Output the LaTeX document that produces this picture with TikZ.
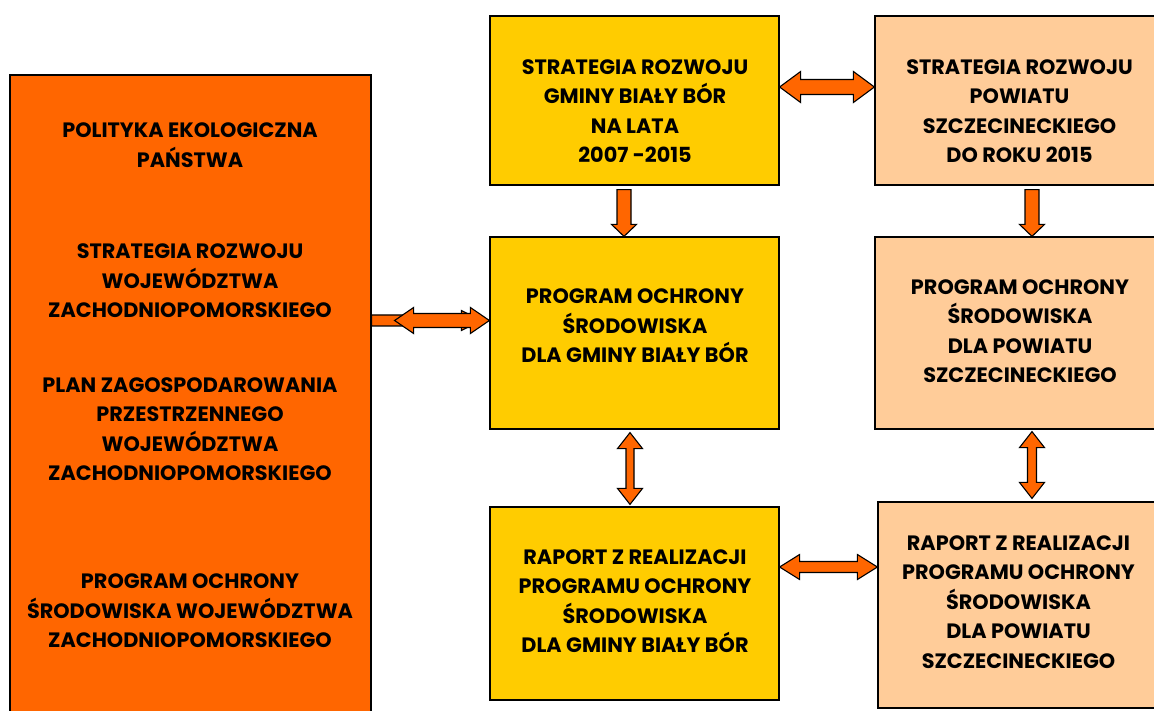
\documentclass[tikz,border=0pt]{standalone}
\usepackage{fontspec}
\setmainfont{Poppins}
\usetikzlibrary{calc}
\definecolor{cOrange}{HTML}{FF6600}
\definecolor{cYellow}{HTML}{FFCC00}
\definecolor{cPeach}{HTML}{FFCC99}
\tikzset{
  box/.style={draw=black, line width=1.2pt, rectangle, inner sep=0pt},
  txt/.style={align=center, font=\fontsize{20.8}{29.5}\selectfont\bfseries, text=black, inner sep=0pt},
  blk/.style={fill=cOrange, draw=black, line width=1.1pt, line join=miter},
}
% horizontal double block arrow: #1 left tip, #2 right tip, #3 half shaft, #4 half head, #5 head length
\newcommand{\dblH}[5]{\path[blk] let \p1=(#1), \p2=(#2) in
  (\x1,\y1) -- (\x1+#5pt,\y1+#4pt) -- (\x1+#5pt,\y1+#3pt) -- (\x2-#5pt,\y1+#3pt) -- (\x2-#5pt,\y1+#4pt)
  -- (\x2,\y1) -- (\x2-#5pt,\y1-#4pt) -- (\x2-#5pt,\y1-#3pt) -- (\x1+#5pt,\y1-#3pt) -- (\x1+#5pt,\y1-#4pt) -- cycle;}
% vertical double block arrow: #1 top tip, #2 bottom tip
\newcommand{\dblV}[5]{\path[blk] let \p1=(#1), \p2=(#2) in
  (\x1,\y1) -- (\x1+#4pt,\y1-#5pt) -- (\x1+#3pt,\y1-#5pt) -- (\x1+#3pt,\y2+#5pt) -- (\x1+#4pt,\y2+#5pt)
  -- (\x1,\y2) -- (\x1-#4pt,\y2+#5pt) -- (\x1-#3pt,\y2+#5pt) -- (\x1-#3pt,\y1-#5pt) -- (\x1-#4pt,\y1-#5pt) -- cycle;}
% vertical single block arrow pointing down: #1 shaft start (top), #2 tip
\newcommand{\sglV}[5]{\path[blk] let \p1=(#1), \p2=(#2) in
  (\x1-#3pt,\y1) -- (\x1+#3pt,\y1) -- (\x1+#3pt,\y2+#5pt) -- (\x1+#4pt,\y2+#5pt)
  -- (\x1,\y2) -- (\x1-#4pt,\y2+#5pt) -- (\x1-#3pt,\y2+#5pt) -- cycle;}
% horizontal single block arrow pointing right, flat start
\newcommand{\sglH}[5]{\path[blk] let \p1=(#1), \p2=(#2) in
  (\x1,\y1+#3pt) -- (\x2-#5pt,\y1+#3pt) -- (\x2-#5pt,\y1+#4pt) -- (\x2,\y1)
  -- (\x2-#5pt,\y1-#4pt) -- (\x2-#5pt,\y1-#3pt) -- (\x1,\y1-#3pt) -- cycle;}
\begin{document}
\begin{tikzpicture}[x=1pt,y=-1pt]
\useasboundingbox (0,0) rectangle (1154,711);
\clip (0,0) rectangle (1154,711);
\fill[white] (0,0) rectangle (1154,711);

% boxes
\node[box, fill=cOrange, minimum width=361pt, minimum height=655pt] (L) at (190.5,402.5) {};
\node[box, fill=cYellow, minimum width=289pt, minimum height=169pt] (A) at (634.5,100.5) {};
\node[box, fill=cPeach,  minimum width=286pt, minimum height=169pt] (B) at (1018,100.5) {};
\node[box, fill=cYellow, minimum width=289pt, minimum height=192pt] (C) at (634.5,333) {};
\node[box, fill=cPeach,  minimum width=286pt, minimum height=192pt] (D) at (1018,333) {};
\node[box, fill=cYellow, minimum width=289pt, minimum height=193pt] (E) at (634.5,603.5) {};
\node[box, fill=cPeach,  minimum width=283pt, minimum height=206pt] (F) at (1019.5,605) {};

% texts
\node[txt] (l1) at (190,145) {POLITYKA EKOLOGICZNA\\PAŃSTWA};
\node[txt] (l2) at (190,281) {STRATEGIA ROZWOJU\\WOJEWÓDZTWA\\ZACHODNIOPOMORSKIEGO};
\node[txt] (l3) at (190,429) {PLAN ZAGOSPODAROWANIA\\PRZESTRZENNEGO\\WOJEWÓDZTWA\\ZACHODNIOPOMORSKIEGO};
\node[txt] (l4) at (190,611) {PROGRAM OCHRONY\\ŚRODOWISKA WOJEWÓDZTWA\\ZACHODNIOPOMORSKIEGO};
\node[txt] (tA) at (635,111) {STRATEGIA ROZWOJU\\GMINY BIAŁY BÓR\\NA LATA\\2007 -2015};
\node[txt] (tB) at (1019.5,111) {STRATEGIA ROZWOJU\\POWIATU\\SZCZECINECKIEGO\\DO ROKU 2015};
\node[txt] (tC) at (635,326) {PROGRAM OCHRONY\\ŚRODOWISKA\\DLA GMINY BIAŁY BÓR};
\node[txt] (tD) at (1020,331) {PROGRAM OCHRONY\\ŚRODOWISKA\\DLA POWIATU\\SZCZECINECKIEGO};
\node[txt] (tE) at (635,601) {RAPORT Z REALIZACJI\\PROGRAMU OCHRONY\\ŚRODOWISKA\\DLA GMINY BIAŁY BÓR};
\node[txt] (tF) at (1018.5,602) {RAPORT Z REALIZACJI\\PROGRAMU OCHRONY\\ŚRODOWISKA\\DLA POWIATU\\SZCZECINECKIEGO};

% connectors
\coordinate (lb) at ($(L.east)+(0,-82)$);
\coordinate (lh) at ($(C.west)+(-8,-12.5)$);
\sglH{lb}{lh}{5.5}{10}{20}
\coordinate (la) at ($(L.east)+(23,-82)$);
\coordinate (cw) at ($(C.west)+(0,-12.5)$);
\dblH{la}{cw}{7}{13}{19}

\dblH{$(A.east)+(0,-13.5)$}{$(B.west)+(0,-13.5)$}{7.5}{15.5}{21}
\dblH{$(E.east)+(0,-36.5)$}{$(F.west)+(0,-38)$}{5.5}{12.5}{20}

\sglV{$(A.south)+(-10.5,4)$}{$(C.north)+(-10.5,0)$}{7}{12.5}{12}
\sglV{$(B.south)+(14,4)$}{$(D.north)+(14,0)$}{7}{12.5}{12}

\dblV{$(C.south)+(-4.5,3)$}{$(E.north)+(-4.5,-2)$}{4}{12.5}{16}
\dblV{$(D.south)+(14,2)$}{$(F.north)+(12.5,-3)$}{4.5}{12.5}{16}
\end{tikzpicture}
\end{document}
